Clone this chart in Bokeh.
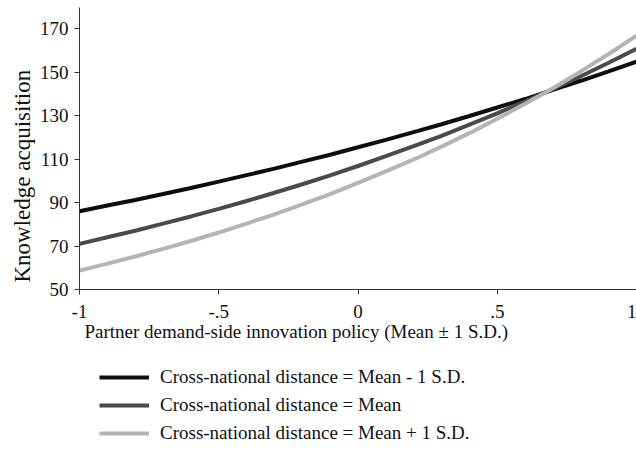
from bokeh.plotting import figure
from bokeh.models import FixedTicker, Legend, LegendItem, Title, Range1d
from bokeh.layouts import column
from bokeh.embed import file_html
from bokeh.resources import INLINE

x_vals = [-1.0, -0.9, -0.8, -0.7, -0.6, -0.5, -0.4, -0.3, -0.2, -0.1, 0.0,
          0.1, 0.2, 0.3, 0.4, 0.5, 0.6, 0.7, 0.8, 0.9, 1.0]
low_dist = [86.0, 88.6, 91.2, 93.9, 96.7, 99.6, 102.6, 105.6, 108.8, 112.0, 115.4,
            118.8, 122.4, 126.0, 129.8, 133.7, 137.6, 141.8, 146.0, 150.3, 154.8]
mean_dist = [71.0, 74.0, 77.0, 80.3, 83.6, 87.1, 90.7, 94.5, 98.4, 102.5, 106.8,
             111.3, 115.9, 120.7, 125.8, 131.0, 136.5, 142.2, 148.1, 154.3, 160.7]
high_dist = [58.7, 61.9, 65.2, 68.7, 72.3, 76.2, 80.3, 84.6, 89.1, 93.9, 99.0,
             104.3, 109.8, 115.7, 121.9, 128.5, 135.4, 142.6, 150.3, 158.3, 166.8]
series = [low_dist, mean_dist, high_dist]
series_labels = ["Cross-national distance = Mean - 1 S.D.",
                 "Cross-national distance = Mean",
                 "Cross-national distance = Mean + 1 S.D."]
x_ticks = [-1, -0.5, 0, 0.5, 1]
x_tick_labels = ["-1", "-.5", "0", ".5", "1"]
y_ticks = [50, 70, 90, 110, 130, 150, 170]

FONT = "Liberation Serif"
TXT = "#111111"
colors = ["#0d0d0d", "#4a4a4a", "#b4b4b4"]

p = figure(width=636, height=349, output_backend="svg", toolbar_location=None,
           x_range=Range1d(-1, 1), y_range=Range1d(50, 179.7),
           min_border_left=79, min_border_right=0, min_border_top=7,
           min_border_bottom=60)
p.outline_line_color = None
p.xgrid.grid_line_color = None
p.ygrid.grid_line_color = None

for ys, c in zip(series, colors):
    p.line(x_vals, ys, line_width=4, line_color=c)

for ax in (p.xaxis[0], p.yaxis[0]):
    ax.axis_line_color = "#333333"
    ax.major_tick_line_color = "#333333"
    ax.major_tick_out = 5
    ax.major_tick_in = 0
    ax.minor_tick_line_color = None
    ax.major_label_text_font = FONT
    ax.major_label_text_font_size = "19px"
    ax.major_label_text_color = TXT

p.xaxis.ticker = FixedTicker(ticks=x_ticks)
p.xaxis.major_label_overrides = {t: s for t, s in zip(x_ticks, x_tick_labels)}
p.xaxis.major_label_standoff = 10

p.yaxis.ticker = FixedTicker(ticks=y_ticks)
p.yaxis.major_label_standoff = 6

ytitle = Title(text="Knowledge acquisition", align="left", offset=7, standoff=4,
               text_font=FONT, text_font_size="23px", text_color=TXT,
               text_font_style="normal")
p.add_layout(ytitle, "left")

xtitle = Title(text="Partner demand-side innovation policy (Mean \u00b1 1 S.D.)",
               align="left", offset=5, standoff=-4,
               text_font=FONT, text_font_size="19px", text_color=TXT,
               text_font_style="normal")
p.add_layout(xtitle, "below")

# legend panel below the chart (its lines lie outside its view, only the legend shows)
q = figure(width=636, height=100, output_backend="svg", toolbar_location=None,
           x_range=Range1d(10, 11), y_range=Range1d(0, 1),
           x_axis_location=None, y_axis_location=None,
           min_border_left=0, min_border_right=0, min_border_top=0,
           min_border_bottom=0)
q.outline_line_color = None
q.xgrid.grid_line_color = None
q.ygrid.grid_line_color = None
items = []
for ys, lab, c in zip(series, series_labels, colors):
    r = q.line(x_vals, ys, line_width=4, line_color=c)
    items.append(LegendItem(label=lab, renderers=[r]))
legend = Legend(items=items, location=(20, 5), orientation="vertical",
                glyph_width=50, glyph_height=22, label_height=22,
                spacing=6, padding=0, margin=0, label_standoff=11,
                label_text_font=FONT, label_text_font_size="19px",
                label_text_color=TXT,
                border_line_color=None, background_fill_alpha=0)
q.add_layout(legend, "center")

layout = column(p, q, spacing=0)
open("out.html", "w").write(file_html(layout, INLINE))
